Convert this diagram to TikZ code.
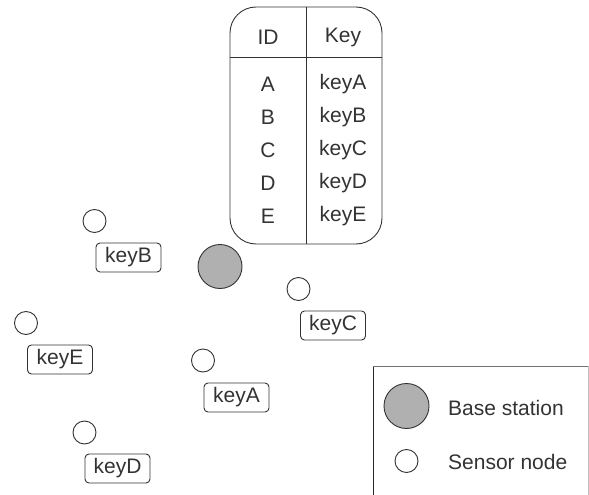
\documentclass[tikz,border=0pt]{standalone}
\usepackage{fontspec}
\setmainfont{Liberation Sans}
\begin{document}
\begin{tikzpicture}[x=1pt,y=-1pt,
  ink/.style={draw=black!80,line width=0.9pt},
  txt/.style={text=black!80,font=\fontsize{21}{24}\selectfont,inner sep=0pt},
  basest/.style={circle,ink,fill=black!31,minimum size=44pt,inner sep=0pt},
  sensor/.style={circle,ink,fill=white,minimum size=23pt,inner sep=0pt},
  keytag/.style={txt,ink,rounded corners=4pt,minimum width=65pt,minimum height=29pt}]
\useasboundingbox (0,0) rectangle (589,495);

% ID/key table
\draw[ink,rounded corners=26pt] (230,7) rectangle (382,244);
\coordinate (divtop) at (306,7);
\coordinate (divbot) at (306,244);
\coordinate (hl) at (230,57);
\coordinate (hr) at (382,57);
\draw[ink] (divtop) -- (divbot);
\draw[ink] (hl) -- (hr);
\node[txt] (hid) at (268,37) {ID};
\node[txt] (hkey) at (343,37) {Key};
\foreach \id/\yy in {A/84,B/117,C/150,D/183,E/216}{
  \node[txt] (id\id) at (268,\yy) {\id};
  \node[txt] (key\id) at (343,\yy) {key\id};
}

% base station and sensors with their keys
\node[basest] (bs) at (220,266.5) {};
\node[sensor] (sB) at (94.5,221) {};
\node[keytag] (tB) at (128.5,257.5) {keyB};
\node[sensor] (sC) at (298.5,289) {};
\node[keytag] (tC) at (333,325.5) {keyC};
\node[sensor] (sE) at (26,323) {};
\node[keytag] (tE) at (60,359.5) {keyE};
\node[sensor] (sA) at (203,360.5) {};
\node[keytag] (tA) at (236.5,397.5) {keyA};
\node[sensor] (sD) at (84.5,432.5) {};
\node[keytag] (tD) at (117.5,468.5) {keyD};

% legend
\coordinate (lgA) at (373,495);
\coordinate (lgB) at (373,366);
\coordinate (lgC) at (588,366);
\coordinate (lgD) at (588,495);
\draw[draw=black!85,line width=1pt] (lgA) -- (lgB);
\draw[draw=black!55,line width=0.9pt] (lgB) -- (lgC);
\draw[draw=black!25,line width=0.8pt] (lgC) -- (lgD);
\node[basest,minimum size=45pt] (lbs) at (406.5,406) {};
\node[txt,anchor=west] (lbst) at (448,408) {Base station};
\node[sensor] (lsn) at (406.5,461) {};
\node[txt,anchor=west] (lsnt) at (448,462) {Sensor node};
\end{tikzpicture}
\end{document}
